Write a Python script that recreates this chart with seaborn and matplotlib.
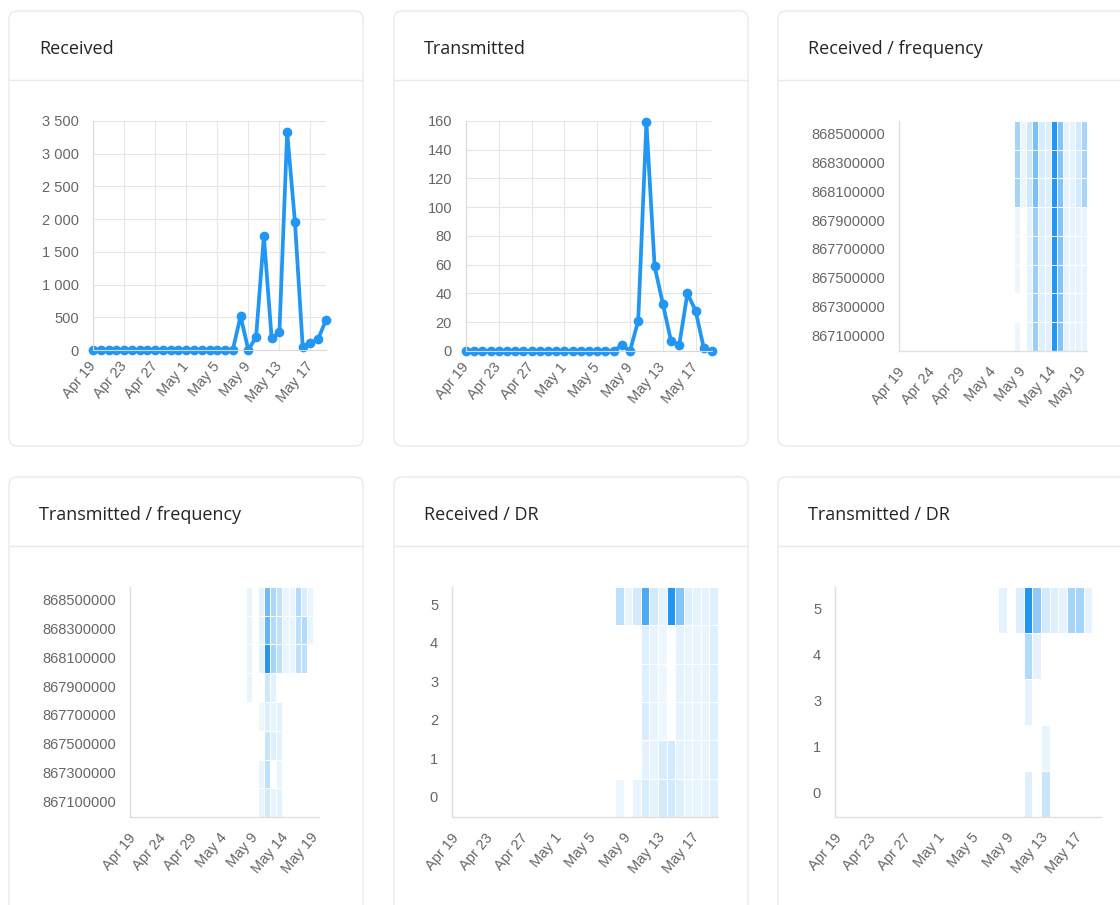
import numpy as np
import pandas as pd
import seaborn as sns
import matplotlib.pyplot as plt
from matplotlib.colors import LinearSegmentedColormap
from matplotlib.patches import FancyBboxPatch
from matplotlib.ticker import FuncFormatter

# ---- data ----
dates = pd.date_range('2024-04-19', '2024-05-19', freq='D')
active_days = pd.date_range('2024-05-08', '2024-05-19', freq='D')  # days with heatmap data

received = [0, 0, 0, 0, 0, 0, 0, 0, 0, 0, 0, 0, 0, 0, 0, 0, 0, 0, 0,
            520, 0, 200, 1740, 180, 270, 3330, 1960, 50, 100, 170, 460]
transmitted = [0, 0, 0, 0, 0, 0, 0, 0, 0, 0, 0, 0, 0, 0, 0, 0, 0, 0, 0,
               4, 0, 21, 159, 59, 33, 7, 4, 40, 28, 2, 0]

freq_labels = ['868500000', '868300000', '868100000', '867900000',
               '867700000', '867500000', '867300000', '867100000']
dr_rx_labels = ['5', '4', '3', '2', '1', '0']
dr_tx_labels = ['5', '4', '3', '1', '0']

# columns: May 8 .. May 19, None = no packets
rx_freq = [
    [170, 40, 95, 250, 75, 65, 415, 230, 50, 50, 85, 165],
    [170, 40, 95, 250, 75, 65, 415, 230, 50, 50, 85, 165],
    [170, 40, 95, 250, 75, 65, 415, 230, 50, 50, 85, 165],
    [35, None, 45, 190, 60, 55, 410, 230, 50, 45, 50, 45],
    [35, None, 45, 190, 60, 55, 410, 230, 50, 45, 50, 45],
    [35, None, 45, 190, 60, 55, 410, 230, 50, 45, 50, 45],
    [None, None, 45, 190, 60, 55, 410, 230, 50, 45, 50, 45],
    [35, None, 45, 190, 60, 55, 410, 230, 50, 45, 50, 45],
]
tx_freq = [
    [4, None, 5, 26, 15, 11, 4, 4, 14, 7, 4, None],
    [4, None, 5, 28, 14, 11, 4, 4, 12, 14, 4, None],
    [4, None, 5, 40, 16, 12, 4, 4, 12, 12, None, None],
    [4, None, None, 9, 5, None, None, None, None, None, None, None],
    [None, None, 3, 6, 4, 5, None, None, None, None, None, None],
    [None, None, None, 10, 6, 5, None, None, None, None, None, None],
    [None, None, 4, 12, None, 4, None, None, None, None, None, None],
    [None, None, 4, 8, 4, 5, None, None, None, None, None, None],
]
rx_dr = [
    [600, 200, 400, 1600, 400, 240, 2000, 1100, 300, 240, 240, 300],
    [None, None, None, 300, 200, 160, None, 240, 200, 200, 200, 300],
    [None, None, None, 300, 200, 160, None, 240, 200, 200, 200, 300],
    [None, None, None, 340, 200, 160, None, 240, 200, 200, 200, 300],
    [None, None, None, 240, 200, 360, 400, 240, 200, 200, 200, 300],
    [160, None, 200, 360, 240, 400, 400, 300, 200, 200, 240, 300],
]
tx_dr = [
    [7, None, 9, 60, 30, 12, 9, 7, 24, 24, 7, None],
    [None, None, None, 21, 7, None, None, None, None, None, None, None],
    [None, None, None, 7, None, None, None, None, None, None, None, None],
    [None, None, None, None, None, 6, None, None, None, None, None, None],
    [None, None, None, 9, None, 15, None, None, None, None, None, None],
]

# ---- style ----
W, H = 1120, 905
BLUE = '#2196f3'
GRID = '#e6e6e6'
TICK_COL = '#666666'
cmap = LinearSegmentedColormap.from_list('chart_blue', ['#ffffff', BLUE])

sns.set_style('white')
plt.rcParams['font.family'] = ['Liberation Sans', 'DejaVu Sans']

fig = plt.figure(figsize=(W / 100, H / 100), dpi=100)
fig.patch.set_facecolor('white')

bg = fig.add_axes([0, 0, 1, 1], zorder=-1)
bg.set_xlim(0, W)
bg.set_ylim(H, 0)
bg.axis('off')


def px_axes(x0, y0, x1, y1):
    return fig.add_axes([x0 / W, 1 - y1 / H, (x1 - x0) / W, (y1 - y0) / H])


def card(x0, y0, x1, y1, sep, title):
    bg.add_patch(FancyBboxPatch((x0, y0), x1 - x0, y1 - y0,
                                boxstyle='round,pad=0,rounding_size=8',
                                fc='white', ec='#eaeaea', lw=1))
    bg.plot([x0, x1], [sep, sep], color='#eaeaea', lw=1)
    bg.text(x0 + 30, (y0 + sep) / 2 + 3, title, ha='left', va='center',
            fontsize=13, fontweight='medium', color='#212529',
            family=['Open Sans', 'DejaVu Sans'])


card(9, 11, 363, 446, 80, 'Received')
card(394, 11, 748, 446, 80, 'Transmitted')
card(778, 11, 1150, 446, 80, 'Received / frequency')
card(9, 477, 363, 940, 546, 'Transmitted / frequency')
card(394, 477, 748, 940, 546, 'Received / DR')
card(778, 477, 1150, 940, 546, 'Transmitted / DR')


def day_label(d):
    return f'{d:%b} {d.day}'


def rotate_xlabels(ax):
    for lbl in ax.get_xticklabels():
        lbl.set_rotation(50)
        lbl.set_ha('right')
        lbl.set_va('center')
        lbl.set_rotation_mode('anchor')


def line_chart(ax, values, ymax, ystep):
    df = pd.DataFrame({'day': dates, 'count': values})
    sns.lineplot(data=df, x='day', y='count', ax=ax, color=BLUE, lw=2.7,
                 marker='o', markersize=7, markeredgewidth=0, clip_on=False)
    ax.set_xlim(dates[0], dates[-1])
    ax.set_ylim(0, ymax)
    ax.set_yticks(np.arange(0, ymax + 1, ystep))
    ax.yaxis.set_major_formatter(FuncFormatter(lambda v, p: f'{int(v):,}'.replace(',', ' ')))
    ticks = dates[::4]
    ax.set_xticks(ticks)
    ax.set_xticklabels([day_label(d) for d in ticks])
    ax.set_xlabel('')
    ax.set_ylabel('')
    ax.grid(True, color=GRID, lw=0.8)
    ax.set_axisbelow(True)
    for s in ['top', 'right']:
        ax.spines[s].set_visible(False)
    for s in ['left', 'bottom']:
        ax.spines[s].set_color('#d9d9d9')
        ax.spines[s].set_linewidth(0.8)
    ax.tick_params(length=6, width=0.8, color=GRID, labelsize=10.5,
                   labelcolor=TICK_COL, pad=4)
    rotate_xlabels(ax)


def heat_chart(ax, counts, row_labels, step):
    full = pd.DataFrame(np.nan, index=row_labels, columns=dates)
    full.loc[:, active_days] = np.array(counts, dtype=float)
    sns.heatmap(full, ax=ax, cmap=cmap, vmin=0, vmax=np.nanmax(full.values),
                cbar=False, linewidths=0.45, linecolor='white',
                xticklabels=False, yticklabels=True)
    ticks = np.arange(0, len(dates), step)
    ax.set_xticks(ticks + 0.5)
    ax.set_xticklabels([day_label(dates[i]) for i in ticks])
    ax.set_yticklabels(row_labels, rotation=0)
    ax.set_xlabel('')
    ax.set_ylabel('')
    for s in ['left', 'bottom']:
        ax.spines[s].set_visible(True)
        ax.spines[s].set_color('#e0e0e0')
        ax.spines[s].set_linewidth(1)
    ax.tick_params(axis='x', length=0, labelsize=10.5, labelcolor=TICK_COL, pad=13)
    ax.tick_params(axis='y', length=0, labelsize=10.5, labelcolor=TICK_COL, pad=10)
    rotate_xlabels(ax)


# row 1
line_chart(px_axes(93, 121, 326, 350), received, 3500, 500)
line_chart(px_axes(466, 121, 712, 351), transmitted, 160, 20)
heat_chart(px_axes(899, 121, 1087, 351), rx_freq, freq_labels, 5)

# row 2
heat_chart(px_axes(130, 587, 319, 817), tx_freq, freq_labels, 5)
heat_chart(px_axes(452, 587, 718, 817), rx_dr, dr_rx_labels, 4)
heat_chart(px_axes(835, 587, 1101, 817), tx_dr, dr_tx_labels, 4)

fig.savefig('out.png', dpi=100)
